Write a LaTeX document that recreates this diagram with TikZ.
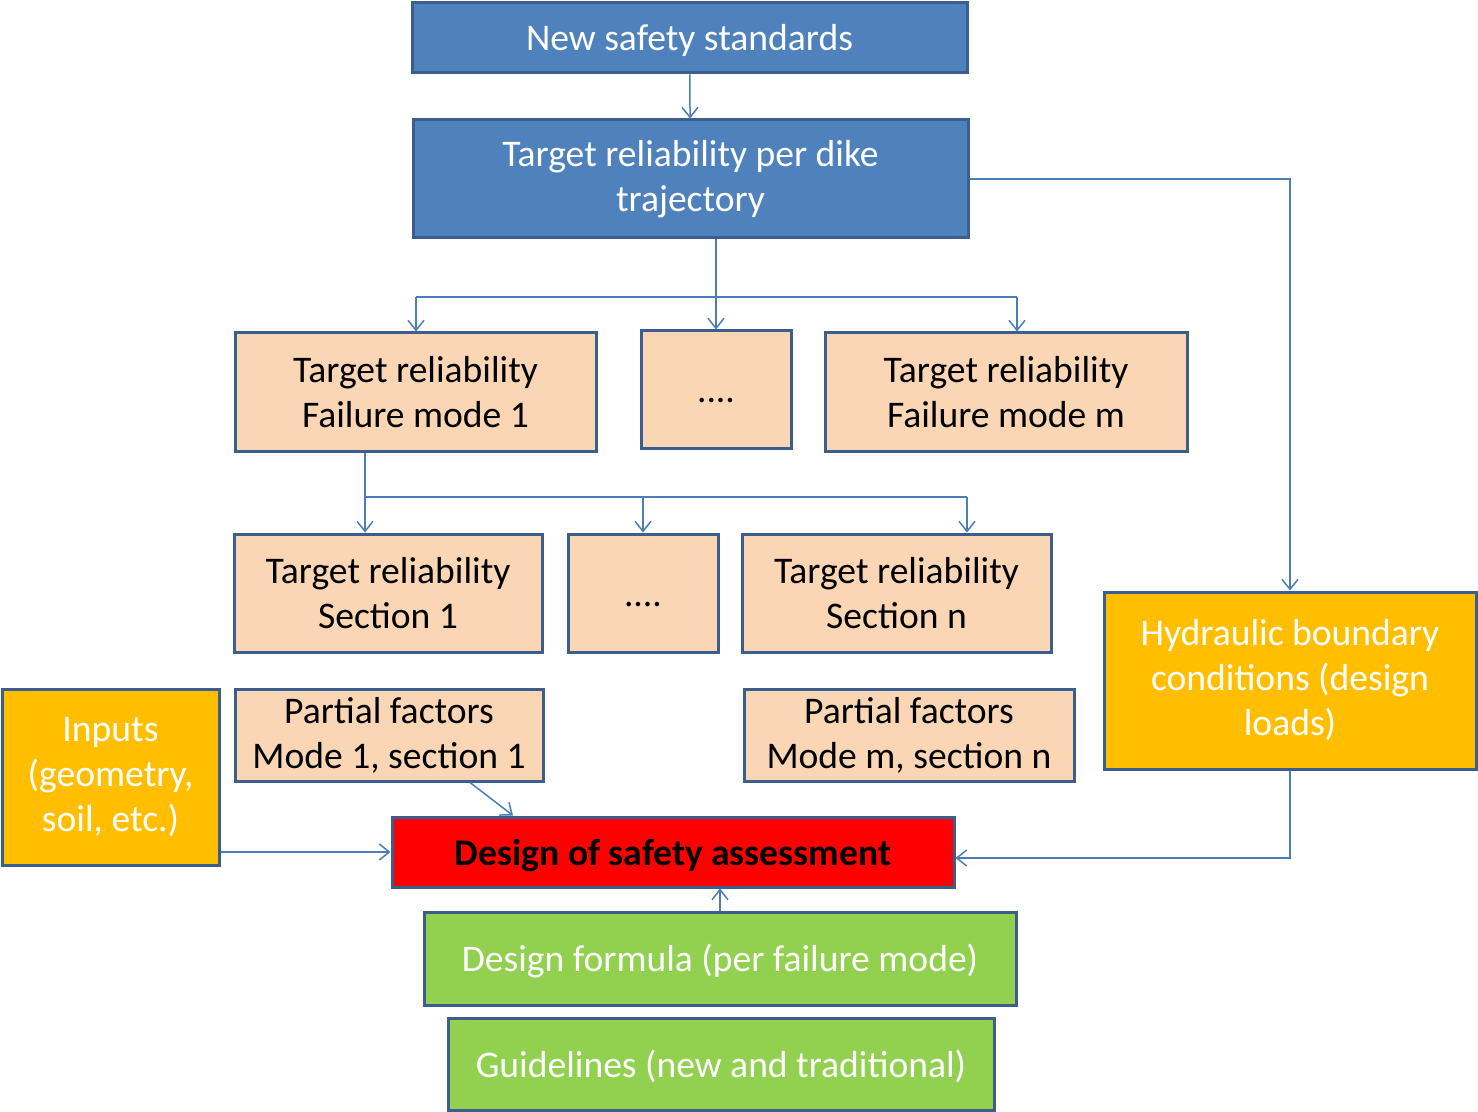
\documentclass[tikz,border=0pt]{standalone}
\usepackage{fontspec}
\setmainfont{Carlito}
\usepackage{tikz}
\usetikzlibrary{positioning, calc, arrows.meta}
\definecolor{officeblue}{rgb}{0.31, 0.51, 0.74}
\definecolor{boxedge}{rgb}{0.23, 0.37, 0.56}
\definecolor{linkblue}{rgb}{0.29, 0.49, 0.73}
\definecolor{peach}{rgb}{0.98, 0.84, 0.71}
\definecolor{amber}{rgb}{1.00, 0.75, 0.00}
\definecolor{limegreen}{rgb}{0.57, 0.82, 0.31}

\begin{document}
\begin{tikzpicture}[x=0.5pt, y=-0.5pt,
	box/.style={draw=boxedge, line width=1.5pt, align=center, inner sep=2pt, font=\fontsize{18.8pt}{22.5pt}\selectfont},
	oneline/.style={text height=17pt, text depth=4pt},
	bluebox/.style={box, fill=officeblue, text=white},
	peachbox/.style={box, fill=peach, text=black},
	amberbox/.style={box, fill=amber, text=white},
	greenbox/.style={box, fill=limegreen, text=white},
	arr/.style={draw=linkblue, line width=0.75pt, -{Straight Barb[length=5pt, width=8pt]}},
	link/.style={draw=linkblue, line width=0.75pt}]
	\useasboundingbox (0,0) rectangle (1478,1112);
	
	\node[bluebox, oneline, minimum width=277.5pt, minimum height=35pt] (nss) at (689.5,38) {New safety standards};
	\node[bluebox, minimum width=277.5pt, minimum height=59pt] (trdt) at (690.5,179) {Target reliability per dike\\trajectory};
	
	\node[peachbox, minimum width=180.5pt, minimum height=59.5pt] (fm1) at (415.5,392.5) {Target reliability\\Failure mode 1};
	\node[peachbox, oneline, minimum width=75pt, minimum height=59pt] (fmdots) at (716,390) {....};
	\node[peachbox, minimum width=181pt, minimum height=59.5pt] (fmm) at (1006,392.5) {Target reliability\\Failure mode m};
	
	\node[peachbox, minimum width=154pt, minimum height=59pt] (sec1) at (388,593) {Target reliability\\Section 1};
	\node[peachbox, oneline, minimum width=75pt, minimum height=59pt] (secdots) at (643,593) {....};
	\node[peachbox, minimum width=154.5pt, minimum height=59pt] (secn) at (896.5,593) {Target reliability\\Section n};
	
	\node[peachbox, minimum width=154pt, minimum height=46pt] (pf1) at (389,735) {Partial factors\\Mode 1, section 1};
	\node[peachbox, minimum width=165pt, minimum height=46pt] (pfn) at (909,735) {Partial factors\\Mode m, section n};
	
	\node[amberbox, minimum width=108.5pt, minimum height=88pt] (inputs) at (110.5,777) {Inputs\\(geometry,\\soil, etc.)};
	\node[amberbox, minimum width=186pt, minimum height=88.5pt] (hydr) at (1290,680.5) {Hydraulic boundary\\conditions (design\\loads)};
	
	\node[box, oneline, fill=red, text=black, font=\fontsize{18.8pt}{22.5pt}\selectfont\bfseries, minimum width=281pt, minimum height=35pt] (design) at (673,852) {Design of safety assessment};
	\node[greenbox, oneline, minimum width=296pt, minimum height=46.5pt] (formula) at (720,958.5) {Design formula (per failure mode)};
	\node[greenbox, oneline, minimum width=273pt, minimum height=46pt] (guide) at (721,1064) {Guidelines (new and traditional)};
	
	\coordinate (fmbusl) at (416,297);
	\coordinate (fmbusr) at (1017,297);
	\coordinate (secbusl) at (365,497);
	\coordinate (secbusr) at (967,497);
	
	\draw[arr] (nss) -- (trdt);
	\draw[arr] (trdt.south -| fmdots) -- (fmdots.north);
	\draw[link] (fmbusl) -- (fmbusr);
	\draw[arr] (fmbusl) -- (fmbusl |- fm1.north);
	\draw[arr] (fmbusr) -- (fmbusr |- fmm.north);
	
	\draw[link] (fm1.south -| secbusl) -- (secbusl) -- (secbusr);
	\draw[arr] (secbusl) -- (secbusl |- sec1.north);
	\draw[arr] (secbusl -| secdots) -- (secdots.north);
	\draw[arr] (secbusr) -- (secbusr |- secn.north);
	
	\draw[arr] (trdt.east) -| (hydr.north);
	\draw[arr] (hydr.south) |- ([yshift=-3pt]design.east);
	\draw[arr] (inputs.east |- design.west) -- (design.west);
	\draw[arr] ([xshift=40.5pt]pf1.south) -- ([xshift=-80pt]design.north);
	\draw[arr] (formula.north) -- (formula.north |- design.south);
\end{tikzpicture}
\end{document}
